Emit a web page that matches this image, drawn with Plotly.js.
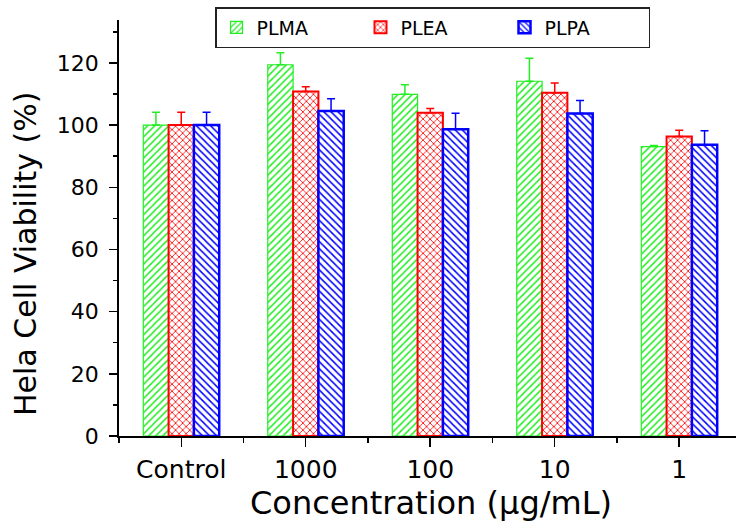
<!DOCTYPE html>
<html>
<head>
<meta charset="utf-8">
<script src="https://cdn.plot.ly/plotly-3.0.1.min.js"></script>
<style>html,body{margin:0;padding:0;background:#fff;}#chart{width:736px;height:525px;}</style>
</head>
<body>
<div id="chart"></div>
<script>
const categories = ['Control', '1000', '100', '10', '1'];
const seriesNames = ['PLMA', 'PLEA', 'PLPA'];
const plmaValues = [100, 119.4, 109.9, 114.1, 93.1];
const plmaErrors = [4.1, 3.9, 3.1, 7.4, 0.3];
const pleaValues = [100, 110.8, 104.0, 110.4, 96.3];
const pleaErrors = [4.1, 1.5, 1.3, 3.1, 2.0];
const plpaValues = [100, 104.5, 98.7, 103.7, 93.7];
const plpaErrors = [4.1, 4.0, 5.1, 4.2, 4.5];
const xTitle = 'Concentration (\u03bcg/mL)';
const yTitle = 'Hela Cell Viability (%)';

const xPos = categories.map((c, i) => i);
const zeros = categories.map(() => 0);
const FONT = 'DejaVu Sans, Arial, sans-serif';

function makeTrace(name, values, errors, color, shape, lineWidth) {
  return {
    type: 'bar',
    name: name,
    x: xPos,
    y: values,
    marker: {
      color: 'white',
      line: {color: color, width: lineWidth},
      pattern: {shape: shape, fgcolor: color, bgcolor: 'white', size: 5, solidity: 0.3, fillmode: 'replace'}
    },
    error_y: {
      type: 'data', symmetric: false, array: errors, arrayminus: zeros,
      color: color, thickness: 1.5, width: 4, visible: true
    }
  };
}

const data = [
  makeTrace(seriesNames[0], plmaValues, plmaErrors, '#22ee22', '/', 1.2),
  makeTrace(seriesNames[1], pleaValues, pleaErrors, '#ff0000', 'x', 2),
  makeTrace(seriesNames[2], plpaValues, plpaErrors, '#0000ff', '\\', 2.5)
];

const layout = {
  width: 736, height: 525,
  margin: {l: 119, r: 0, t: 20, b: 89},
  paper_bgcolor: 'white', plot_bgcolor: 'white',
  barmode: 'group', bargap: 0.39, bargroupgap: 0,
  showlegend: true,
  legend: {
    orientation: 'h', x: 0.1556, y: (436 - 7) / 416, xanchor: 'left', yanchor: 'top',
    bordercolor: '#222', borderwidth: 1.5, bgcolor: 'white',
    font: {family: FONT, size: 19, color: 'black'},
    entrywidth: 99, entrywidthmode: 'pixels', tracegroupgap: 0
  },
  xaxis: {
    range: [-0.5, 4.456], autorange: false,
    tickmode: 'array', tickvals: xPos, ticktext: categories,
    ticks: 'outside', ticklen: 9, tickwidth: 1.5, tickcolor: 'black',
    minor: {tick0: 0.5, dtick: 1, ticks: 'outside', ticklen: 5, tickwidth: 1.5, tickcolor: 'black', showgrid: false},
    showline: true, linecolor: 'black', linewidth: 1.8,
    showgrid: false, zeroline: false,
    tickfont: {family: FONT, size: 25, color: 'black'},
    ticklabelstandoff: 1,
    automargin: false
  },
  yaxis: {
    range: [0, 133.8], autorange: false,
    tickmode: 'linear', tick0: 0, dtick: 20,
    ticks: 'outside', ticklen: 8, tickwidth: 1.5, tickcolor: 'black',
    minor: {tick0: 10, dtick: 20, ticks: 'outside', ticklen: 4, tickwidth: 1.5, tickcolor: 'black', showgrid: false},
    showline: true, linecolor: 'black', linewidth: 1.8,
    showgrid: false, zeroline: false,
    tickfont: {family: FONT, size: 22, color: 'black'},
    ticklabelstandoff: 6,
    automargin: false
  },
  annotations: [
    {text: xTitle, xref: 'paper', yref: 'paper', x: (431 - 119) / 617, y: -(503 - 436) / 416,
     xanchor: 'center', yanchor: 'middle', showarrow: false,
     font: {family: FONT, size: 32, color: 'black'}},
    {text: yTitle, xref: 'paper', yref: 'paper', x: -(119 - 25) / 617, y: (436 - 254) / 416,
     xanchor: 'center', yanchor: 'middle', textangle: -90, showarrow: false,
     font: {family: FONT, size: 30, color: 'black'}}
  ]
};

Plotly.newPlot('chart', data, layout, {displayModeBar: false, staticPlot: true});
</script>
</body>
</html>
